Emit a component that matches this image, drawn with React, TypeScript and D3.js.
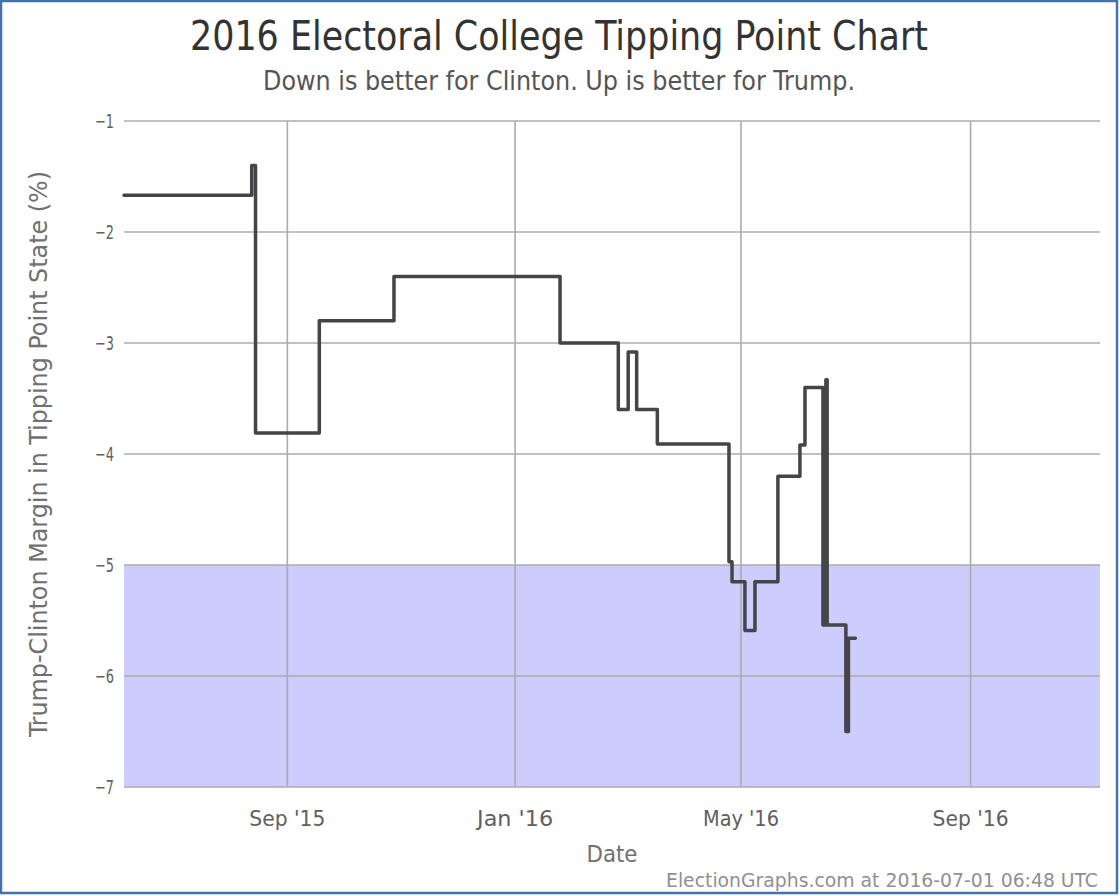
import React from "react";
import * as d3 from "d3";

const changeDates = [
  "2015-06-05T12:00Z", "2015-08-12T22:00Z", "2015-08-14T23:00Z", "2015-09-18T03:00Z",
  "2015-10-28T03:00Z", "2016-01-25T02:00Z", "2016-02-25T07:00Z", "2016-03-01T14:00Z",
  "2016-03-06T03:00Z", "2016-03-17T05:00Z", "2016-04-24T14:00Z", "2016-04-26T05:00Z",
  "2016-05-03T03:00Z", "2016-05-08T12:00Z", "2016-05-20T19:00Z", "2016-06-01T14:00Z",
  "2016-06-04T07:00Z", "2016-06-13T22:00Z", "2016-06-15T12:00Z", "2016-06-16T04:00Z",
  "2016-06-26T05:00Z", "2016-06-27T14:00Z", "2016-07-01T06:48Z",
];
const margins = [
  -1.67, -1.40, -3.81, -2.80,
  -2.40, -3.00, -3.60, -3.08,
  -3.60, -3.91, -4.97, -5.15,
  -5.59, -5.15, -4.20, -3.92,
  -3.40, -5.54, -3.33, -5.54,
  -6.50, -5.66, -5.66,
];
const xTickDates = ["2015-09-01T00:00Z", "2016-01-01T00:00Z", "2016-05-01T00:00Z", "2016-09-01T00:00Z"];
const yTicks = [-1, -2, -3, -4, -5, -6, -7];
const bandRange = [-5, -7];
const xDomain = ["2015-06-05T12:00Z", "2016-11-09T08:00Z"];
const yDomain = [-7, -1];

const W = 1120;
const H = 896;
const plot = { left: 124, right: 1100, top: 121, bottom: 787 };
const FONT = "'DejaVu Sans Condensed', 'Liberation Sans Narrow', 'DejaVu Sans', sans-serif";

export default function App() {
  const x = d3.scaleUtc()
    .domain(xDomain.map((d) => new Date(d)))
    .range([plot.left, plot.right]);
  const y = d3.scaleLinear().domain(yDomain).range([plot.bottom, plot.top]);
  const pts = changeDates.map((d, i) => [new Date(d), margins[i]] as [Date, number]);
  const line = d3.line<[Date, number]>()
    .x((d) => x(d[0]))
    .y((d) => y(d[1]))
    .curve(d3.curveStepAfter);
  const fmt = d3.utcFormat("%b '%y");

  return (
    <svg width={W} height={H} style={{ position: "absolute", left: 0, top: 0, background: "#fff" }} fontFamily={FONT}>
      <rect x={0} y={0} width={1118} height={894} fill="#fff" />
      <rect x={plot.left} width={plot.right - plot.left} y={y(bandRange[0])} height={y(bandRange[1]) - y(bandRange[0])} fill="#ccccff" />
      {yTicks.map((t) => (
        <line key={"gy" + t} x1={plot.left} x2={plot.right} y1={y(t)} y2={y(t)} stroke="#acacac" strokeWidth={1.6} />
      ))}
      {xTickDates.map((d) => (
        <line key={"gx" + d} x1={x(new Date(d))} x2={x(new Date(d))} y1={plot.top} y2={plot.bottom} stroke="#acacac" strokeWidth={1.6} />
      ))}
      <path d={line(pts) || ""} fill="none" stroke="#444449" strokeWidth={3.5} strokeLinejoin="round" strokeLinecap="round" />
      {yTicks.map((t) => (
        <text key={"ty" + t} x={114} y={y(t) + 7} textAnchor="end" fontSize={20} fill="#606060" textLength={19} lengthAdjust="spacingAndGlyphs">
          {"\u2212" + Math.abs(t)}
        </text>
      ))}
      {xTickDates.map((d) => (
        <text key={"tx" + d} x={x(new Date(d))} y={826} textAnchor="middle" fontSize={21} fill="#606060" textLength={76} lengthAdjust="spacingAndGlyphs">
          {fmt(new Date(d))}
        </text>
      ))}
      <text x={(plot.left + plot.right) / 2} y={862} textAnchor="middle" fontSize={23} fill="#707070" textLength={51} lengthAdjust="spacingAndGlyphs">Date</text>
      <text transform={`translate(47, ${(plot.top + plot.bottom) / 2}) rotate(-90)`} textAnchor="middle" fontSize={24} fill="#707070"
        textLength={566} lengthAdjust="spacingAndGlyphs">
        Trump-Clinton Margin in Tipping Point State (%)
      </text>
      <text x={559} y={50} textAnchor="middle" fontSize={40} fill="#333333" textLength={738} lengthAdjust="spacingAndGlyphs">
        2016 Electoral College Tipping Point Chart
      </text>
      <text x={559} y={90} textAnchor="middle" fontSize={26} fill="#555555" textLength={592} lengthAdjust="spacingAndGlyphs">
        Down is better for Clinton. Up is better for Trump.
      </text>
      <text x={1098} y={887} textAnchor="end" fontSize={19} fill="#909090" textLength={432} lengthAdjust="spacingAndGlyphs">
        ElectionGraphs.com at 2016-07-01 06:48 UTC
      </text>
      <rect x={1} y={1} width={1116} height={892} fill="none" stroke="#4572A7" strokeWidth={2.5} />
    </svg>
  );
}
